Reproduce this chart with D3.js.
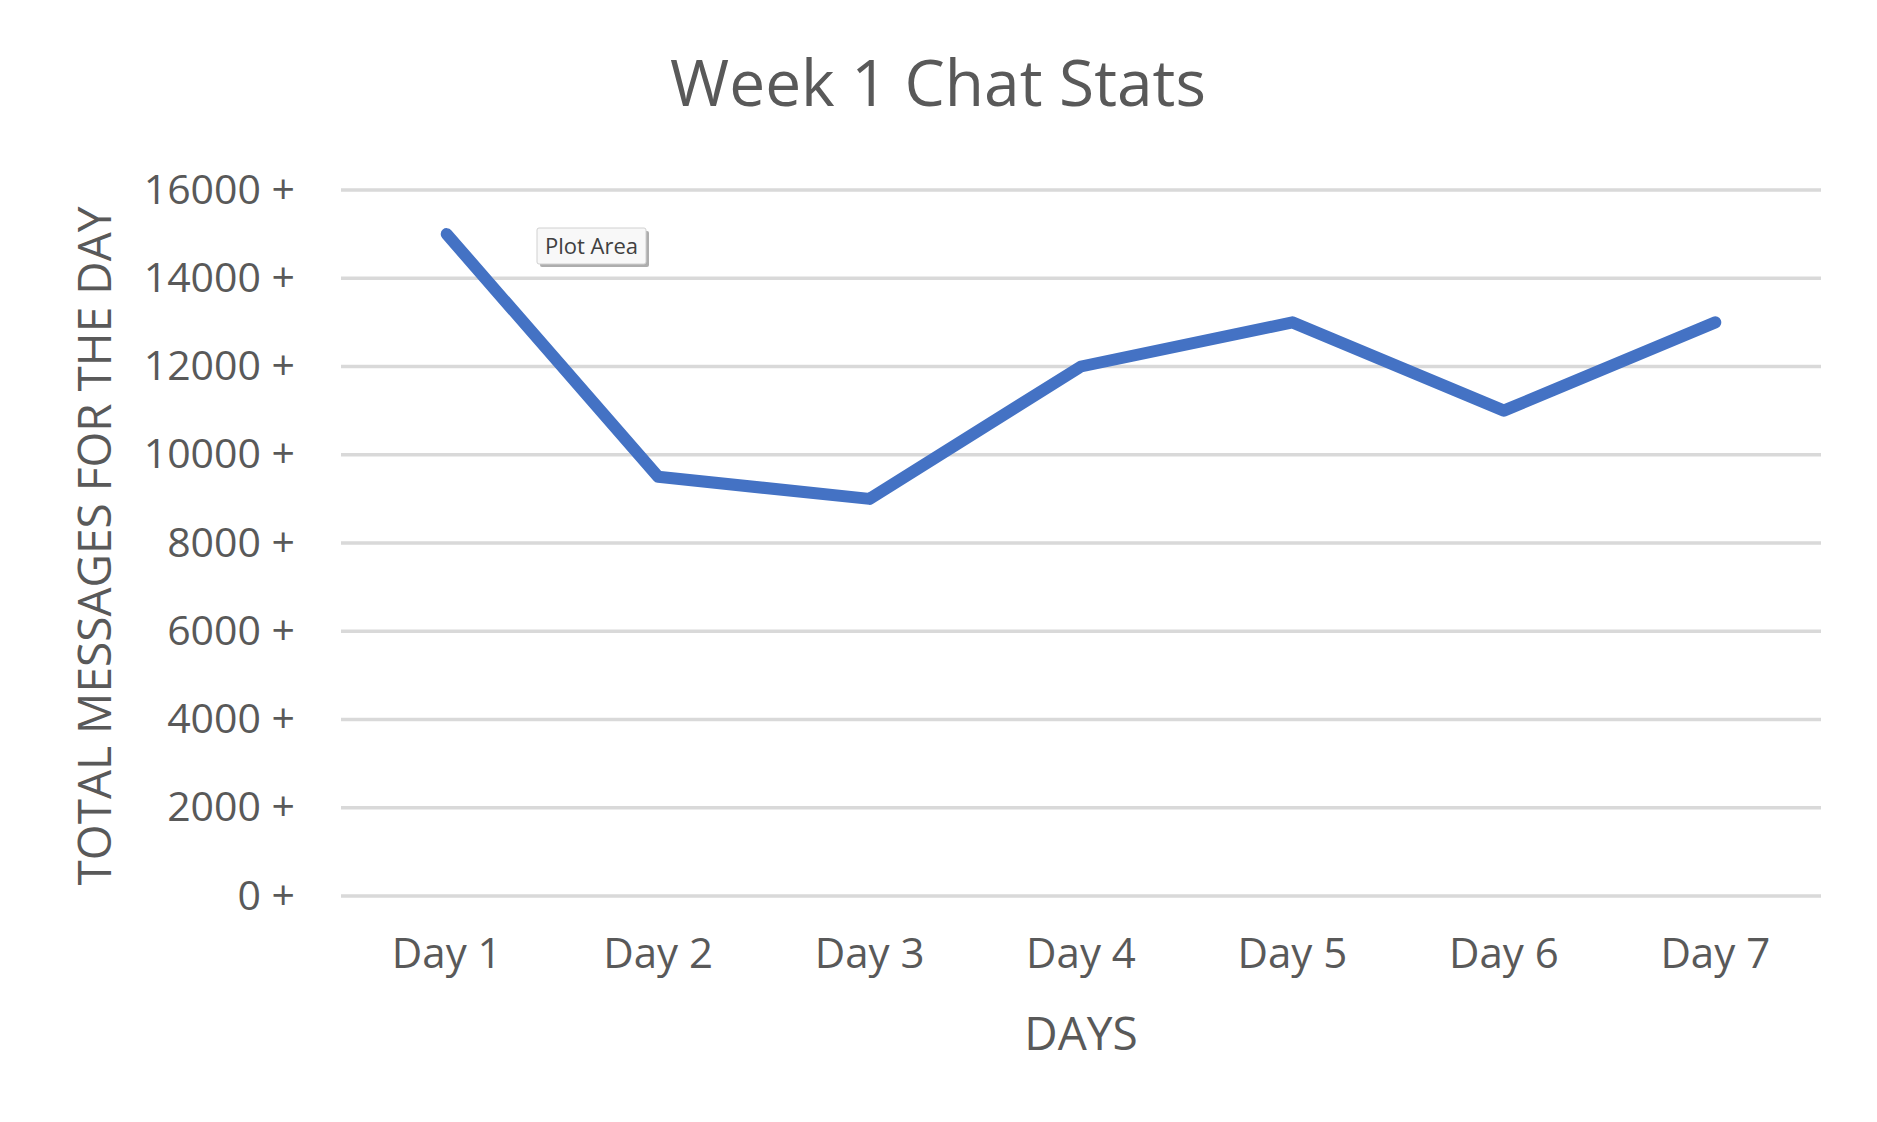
<!DOCTYPE html>
<html>
<head>
<meta charset="utf-8">
<script src="https://cdn.jsdelivr.net/npm/d3@7"></script>
<style>
  body { margin: 0; background: #fff; }
  text { font-family: "Open Sans", "Noto Sans", sans-serif; }
</style>
</head>
<body>
<script>
const days = ["Day 1", "Day 2", "Day 3", "Day 4", "Day 5", "Day 6", "Day 7"];
const messages = [15000, 9500, 9000, 12000, 13000, 11000, 13000];
const yTicks = [0, 2000, 4000, 6000, 8000, 10000, 12000, 14000, 16000];

const width = 1877, height = 1122;
const margin = {top: 190, right: 56, bottom: 226, left: 341};

const svg = d3.select("body").append("svg")
    .attr("width", width)
    .attr("height", height)
    .attr("viewBox", [0, 0, width, height]);

const x = d3.scaleBand()
    .domain(days)
    .range([margin.left, width - margin.right]);

const y = d3.scaleLinear()
    .domain([0, 16000])
    .range([height - margin.bottom, margin.top]);

// gridlines
svg.append("g")
  .selectAll("line")
  .data(yTicks)
  .join("line")
    .attr("x1", margin.left)
    .attr("x2", width - margin.right)
    .attr("y1", d => y(d))
    .attr("y2", d => y(d))
    .attr("stroke", "#d9d9d9")
    .attr("stroke-width", 3.5);

// y axis labels
const yAxis = g => g
    .attr("transform", `translate(${margin.left - 46},0)`)
    .call(d3.axisLeft(y).tickValues(yTicks).tickSize(0).tickPadding(0).tickFormat(d => d + " +"))
    .call(g => g.select(".domain").remove())
    .call(g => g.selectAll("text")
        .attr("fill", "#595959")
        .attr("font-size", 41)
        .attr("font-family", "Open Sans, sans-serif"));

svg.append("g").call(yAxis);

// x axis labels
const xAxis = g => g
    .attr("transform", `translate(0,${height - margin.bottom + 42})`)
    .call(d3.axisBottom(x).tickSize(0).tickPadding(0))
    .call(g => g.select(".domain").remove())
    .call(g => g.selectAll("text")
        .attr("fill", "#595959")
        .attr("font-size", 42)
        .attr("font-family", "Open Sans, sans-serif"));

svg.append("g").call(xAxis);

const line = d3.line()
    .x((d, i) => x(days[i]) + x.bandwidth() / 2)
    .y(d => y(d));

svg.append("path")
    .datum(messages)
    .attr("fill", "none")
    .attr("stroke", "#4472c4")
    .attr("stroke-width", 12)
    .attr("stroke-linejoin", "round")
    .attr("stroke-linecap", "round")
    .attr("d", line);

// title
svg.append("text")
    .attr("x", 938)
    .attr("y", 106)
    .attr("text-anchor", "middle")
    .attr("fill", "#595959")
    .attr("font-size", 64)
    .text("Week 1 Chat Stats");

// axis titles
svg.append("text")
    .attr("x", 1081)
    .attr("y", 1050)
    .attr("text-anchor", "middle")
    .attr("fill", "#595959")
    .attr("font-size", 46)
    .text("DAYS");

svg.append("text")
    .attr("transform", "translate(111,546) rotate(-90)")
    .attr("text-anchor", "middle")
    .attr("fill", "#595959")
    .attr("font-size", 46)
    .text("TOTAL MESSAGES FOR THE DAY");

// "Plot Area" hover tip
const tip = svg.append("g").attr("transform", "translate(537,228)");
tip.append("rect")
    .attr("x", 3).attr("y", 3)
    .attr("width", 109).attr("height", 36)
    .attr("rx", 2)
    .attr("fill", "#8a8a8a")
    .attr("opacity", 0.7);
tip.append("rect")
    .attr("width", 109).attr("height", 36)
    .attr("rx", 2)
    .attr("fill", "#f8f8f8")
    .attr("stroke", "#d0d0d0");
tip.append("text")
    .attr("x", 54.5).attr("y", 26)
    .attr("text-anchor", "middle")
    .attr("fill", "#404040")
    .attr("font-size", 22)
    .text("Plot Area");
</script>
</body>
</html>
